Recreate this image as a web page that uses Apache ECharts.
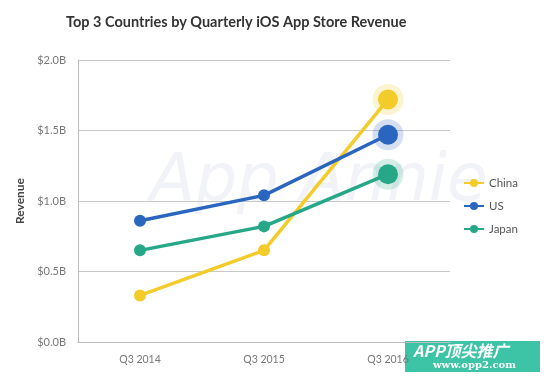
<!DOCTYPE html>
<html>
<head>
<meta charset="utf-8">
<style>
  html, body { margin: 0; padding: 0; background: #fff; }
  #chart { width: 550px; height: 377px; }
</style>
<script src="https://cdn.jsdelivr.net/npm/echarts@6/dist/echarts.min.js"></script>
</head>
<body>
<div id="chart"></div>
<script>
// quarters on the x axis
var quarters = ['Q3 2014', 'Q3 2015', 'Q3 2016']
// revenue in billions of USD
var china = [0.33, 0.65, 1.72]
var us = [0.86, 1.04, 1.47]
var japan = [0.65, 0.82, 1.19]
var yTicks = [0, 0.5, 1.0, 1.5, 2.0]

var colors = { China: '#F3CC2C', US: '#2A66BF', Japan: '#26A788' }
var halos = { China: 'rgba(243,204,44,0.28)', US: 'rgba(42,102,191,0.25)', Japan: 'rgba(38,167,136,0.25)' }

function lineSeries(name, values) {
  var last = values.length - 1
  return {
    name: name,
    type: 'line',
    z: 3,
    data: values.map(function (v, i) {
      return i === last ? { value: v, symbolSize: 20 } : v
    }),
    symbol: 'circle',
    symbolSize: 12,
    lineStyle: { width: 3.5, color: colors[name] },
    itemStyle: { color: colors[name] },
    emphasis: { disabled: true }
  }
}

// halo behind the latest point of each country (kept out of the legend)
function haloSeries(name, values) {
  var last = values.length - 1
  return {
    name: name + ' halo',
    type: 'scatter',
    z: 2,
    silent: true,
    data: [[last, values[last]]],
    symbolSize: 31,
    itemStyle: { color: halos[name] }
  }
}

var chart = echarts.init(document.getElementById('chart'))
chart.setOption({
  animation: false,
  title: {
    text: 'Top 3 Countries by Quarterly iOS App Store Revenue',
    left: 61,
    top: 10,
    textStyle: { fontFamily: 'Lato', fontWeight: 'bold', fontSize: 14.5, color: '#333' }
  },
  graphic: [
    {
      type: 'text',
      left: 150,
      top: 150,
      z: 0,
      style: {
        text: 'App Annie',
        font: 'italic 300 66px "DejaVu Sans"',
        fill: 'rgba(228,232,242,0.5)'
      }
    },
    {
      type: 'group',
      left: 405,
      top: 341,
      z: 100,
      children: [
        { type: 'rect', shape: { x: 0, y: 0, width: 135, height: 31 }, style: { fill: '#3DC3A5' } },
        { type: 'text', x: 8, y: 2, style: { text: 'APP顶尖推广', font: 'italic bold 16px "Noto Sans CJK SC"', fill: '#fff' } },
        { type: 'text', x: 28, y: 19, style: { text: 'www.opp2.com', font: 'bold 10px "DejaVu Serif"', fill: '#fff' } }
      ]
    }
  ],
  legend: {
    data: ['China', 'US', 'Japan'],
    orient: 'vertical',
    left: 458,
    top: 172,
    itemWidth: 20,
    itemHeight: 10,
    itemGap: 11,
    textStyle: { fontFamily: 'Lato', fontSize: 11.5, color: '#555' }
  },
  grid: { left: 78, right: 100, top: 60, bottom: 35 },
  xAxis: {
    type: 'category',
    data: quarters,
    axisLine: { lineStyle: { color: '#bbb', width: 1 } },
    axisTick: { show: false },
    axisLabel: { color: '#777', fontFamily: 'Lato', fontSize: 10.5, margin: 12 }
  },
  yAxis: {
    type: 'value',
    min: yTicks[0],
    max: yTicks[yTicks.length - 1],
    interval: 0.5,
    name: 'Revenue',
    nameLocation: 'middle',
    nameGap: 52,
    nameTextStyle: { fontFamily: 'Lato', fontWeight: 'bold', fontSize: 12, color: '#444' },
    axisLine: { show: true, lineStyle: { color: '#bbb', width: 1 } },
    axisTick: { show: false },
    splitLine: { lineStyle: { color: '#c8c8c8', width: 1 } },
    axisLabel: {
      color: '#777',
      fontFamily: 'Lato',
      fontSize: 11,
      margin: 12,
      formatter: function (v) { return '$' + v.toFixed(1) + 'B' }
    }
  },
  series: [
    lineSeries('China', china),
    lineSeries('US', us),
    lineSeries('Japan', japan),
    haloSeries('China', china),
    haloSeries('US', us),
    haloSeries('Japan', japan)
  ]
})
</script>
</body>
</html>
